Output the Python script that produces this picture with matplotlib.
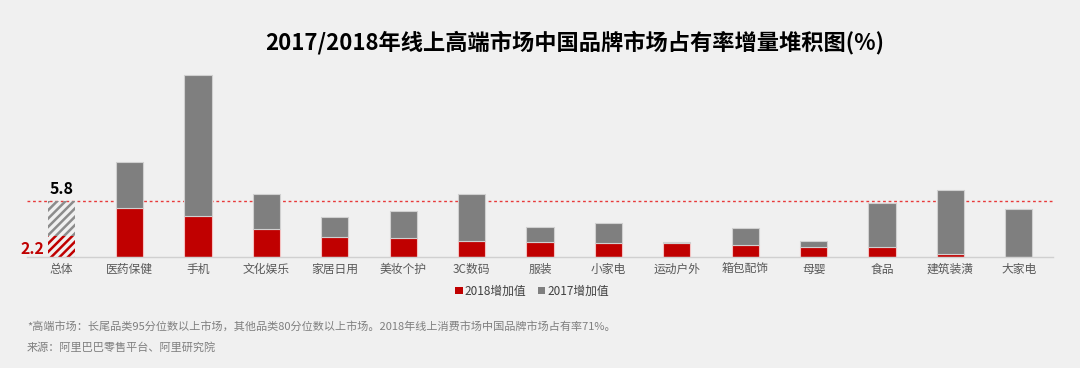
import matplotlib
matplotlib.use("Agg")
import matplotlib.pyplot as plt
from matplotlib.patches import Patch

plt.rcParams['font.family'] = ['Noto Sans CJK SC', 'DejaVu Sans']
plt.rcParams['hatch.linewidth'] = 1.8

categories = ["总体", "医药保健", "手机", "文化娱乐", "家居日用", "美妆个护", "3C数码", "服装",
              "小家电", "运动户外", "箱包配饰", "母婴", "食品", "建筑装潢", "大家电"]
inc_2018 = [2.2, 5.1, 4.25, 2.9, 2.1, 1.94, 1.63, 1.55, 1.42, 1.45, 1.24, 1.07, 1.04, 0.31, 0.03]
inc_2017 = [3.6, 4.77, 14.57, 3.59, 2.01, 2.86, 4.86, 1.56, 2.07, 0.07, 1.79, 0.56, 4.55, 6.59, 4.94]
total_value = 5.8
total_2018_label = 2.2
series_names = ["2018增加值", "2017增加值"]
title = "2017/2018年线上高端市场中国品牌市场占有率增量堆积图(%)"
note1 = "*高端市场：长尾品类95分位数以上市场，其他品类80分位数以上市场。2018年线上消费市场中国品牌市场占有率71%。"
note2 = "来源：阿里巴巴零售平台、阿里研究院"

RED = "#c00000"
GRAY = "#7f7f7f"
BG = "#f0f0f0"

fig = plt.figure(figsize=(10.8, 3.68), dpi=100, facecolor=BG)
ax = fig.add_axes([0.025, 0.3016, 0.95, 0.5117])
ax.set_facecolor(BG)

x = list(range(len(categories)))
w = 0.4
for i in x:
    if i == 0:
        ax.bar(i, inc_2018[i], width=w, facecolor='none', edgecolor=RED, hatch='////', linewidth=0)
        ax.bar(i, inc_2017[i], width=w, bottom=inc_2018[i], facecolor='none', edgecolor='#8c8c8c',
               hatch='////', linewidth=0)
    else:
        ax.bar(i, inc_2018[i], width=w, color=RED, edgecolor='#f4c0c0', linewidth=0.8)
        ax.bar(i, inc_2017[i], width=w, bottom=inc_2018[i], color=GRAY, edgecolor='#d0d0d0', linewidth=0.8)

ax.axhline(total_value, color='#e83a3a', linestyle=(0, (2, 2)), linewidth=1.0, zorder=0.5)

ax.set_xlim(-0.5, len(categories) - 0.5)
ax.set_ylim(0, 19.5)
ax.set_yticks([])
ax.set_xticks(x)
ax.set_xticklabels(categories, fontsize=8.5, color='#595959')
ax.tick_params(axis='x', length=0, pad=4)
for s in ['top', 'right', 'left']:
    ax.spines[s].set_visible(False)
ax.spines['bottom'].set_color('#d0d0d0')
ax.spines['bottom'].set_linewidth(1.0)

ax.text(0, total_value + 0.45, f"{total_value}", ha='center', va='bottom', fontsize=11.5,
        fontweight='bold', color='black', fontstretch='condensed')
ax.text(-0.25, 0.0, f"{total_2018_label}", ha='right', va='bottom', fontsize=11.5,
        fontweight='bold', color=RED, fontstretch='condensed')

handles = [Patch(facecolor=RED, edgecolor='none'), Patch(facecolor=GRAY, edgecolor='none')]
fig.legend(handles, series_names, loc='center', bbox_to_anchor=(0.493, 0.209), ncol=2,
           frameon=False, fontsize=8.5, handlelength=0.6, handleheight=0.6, handletextpad=0.2,
           columnspacing=1.0, labelcolor='#404040')

fig.text(0.532, 0.885, title, ha='center', va='center', fontsize=16, fontweight='bold', color='black')
fig.text(0.025, 0.113, note1, ha='left', va='center', fontsize=8, color='#7f7f7f')
fig.text(0.025, 0.057, note2, ha='left', va='center', fontsize=8, color='#7f7f7f')

fig.savefig("out.png", dpi=100, facecolor=BG)
